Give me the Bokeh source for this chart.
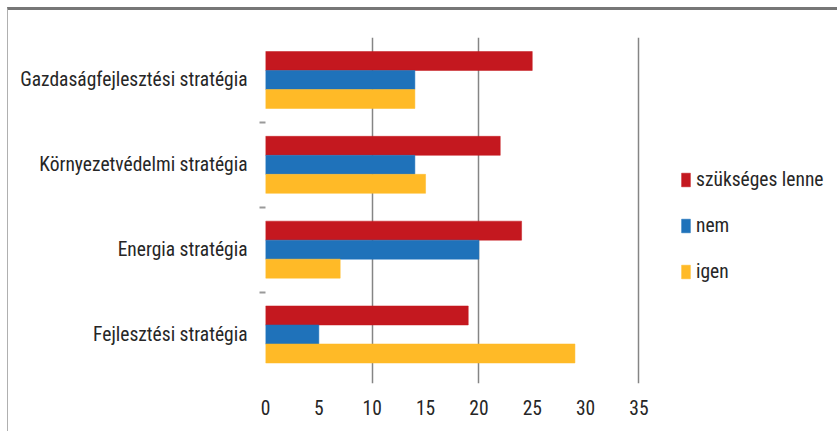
from bokeh.plotting import figure
from bokeh.models import ColumnDataSource, FixedTicker, Range1d, Legend, LegendItem
from bokeh.embed import file_html
from bokeh.resources import INLINE

# ---- data ----
categories = ["Gazdaságfejlesztési stratégia", "Környezetvédelmi stratégia",
              "Energia stratégia", "Fejlesztési stratégia"]
szukseges = [25, 22, 24, 19]
nem = [14, 14, 20, 5]
igen = [14, 15, 7, 29]
series_names = ["szükséges lenne", "nem", "igen"]
x_ticks = [0, 5, 10, 15, 20, 25, 30, 35]
grid_ticks = [10, 20, 35]

colors = ["#C4181F", "#1F72BA", "#FFBA27"]
FONT = "Roboto Condensed"
FSIZE = "19.5px"
TXT = "#262626"

n = len(categories)
ypos = [n - 1 - i for i in range(n)]  # top category first

p = figure(width=830, height=424, output_backend="svg", toolbar_location=None,
           x_range=Range1d(0, 53.7), y_range=Range1d(-0.578, 3.501),
           min_border_left=257, min_border_right=0, min_border_top=27,
           min_border_bottom=51)
p.outline_line_color = None
p.background_fill_color = "white"
p.border_fill_color = "white"

bar_h = 0.224
offsets = [bar_h, 0.0, -bar_h]
renderers = []
for vals, off, col in zip([szukseges, nem, igen], offsets, colors):
    src = ColumnDataSource(dict(y=[y + off for y in ypos], right=vals))
    r = p.hbar(y="y", left=0, right="right", height=bar_h, source=src,
               fill_color=col, line_color=col, line_width=0.5)
    renderers.append(r)

# x axis
xa = p.xaxis[0]
xa.ticker = FixedTicker(ticks=x_ticks)
xa.axis_line_color = None
xa.major_tick_line_color = None
xa.minor_tick_line_color = None
xa.major_tick_out = 0
xa.major_tick_in = 0
xa.minor_tick_out = 0
xa.minor_tick_in = 0
xa.major_label_standoff = 16
xa.major_label_text_font = FONT
xa.major_label_text_font_size = FSIZE
xa.major_label_text_color = TXT

# y axis
ya = p.yaxis[0]
ya.ticker = FixedTicker(ticks=ypos, minor_ticks=[0.5, 1.5, 2.5])
ya.major_label_overrides = {y: c for y, c in zip(ypos, categories)}
ya.axis_line_color = None
ya.major_tick_line_color = None
ya.major_tick_out = 0
ya.major_tick_in = 0
ya.minor_tick_line_color = "#9a9a9a"
ya.minor_tick_line_width = 2
ya.minor_tick_out = 6
ya.minor_tick_in = 0
ya.major_label_standoff = 12
ya.major_label_text_font = FONT
ya.major_label_text_font_size = FSIZE
ya.major_label_text_color = TXT

# grid
p.ygrid.grid_line_color = None
p.xgrid.ticker = FixedTicker(ticks=grid_ticks)
p.xgrid.grid_line_color = "#858585"
p.xgrid.grid_line_width = 1.5

legend = Legend(items=[LegendItem(label=s, renderers=[r]) for s, r in zip(series_names, renderers)],
                location=(415, 100), padding=0, margin=0, border_line_color=None,
                background_fill_alpha=0, glyph_width=11, glyph_height=17,
                label_height=24, spacing=22, label_standoff=5,
                label_text_font=FONT, label_text_font_size=FSIZE,
                label_text_color=TXT)
p.add_layout(legend)

p.styles = {"margin-top": "7px", "margin-left": "7px",
            "border-top": "3px solid #777777", "border-left": "1px solid #b0b0b0"}

open("out.html", "w").write(file_html(p, INLINE))
